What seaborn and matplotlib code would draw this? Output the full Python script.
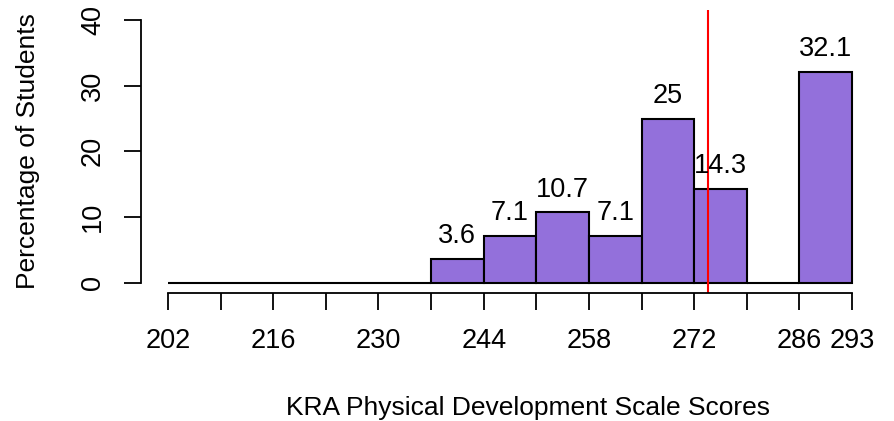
import numpy as np
import pandas as pd
import matplotlib
matplotlib.use("Agg")
import matplotlib.pyplot as plt
import seaborn as sns

# Score bins (width 7) and percentage of students in each bin
bin_edges = [202, 209, 216, 223, 230, 237, 244, 251, 258, 265, 272, 279, 286, 293]
percentages = [0, 0, 0, 0, 0, 3.6, 7.1, 10.7, 7.1, 25, 14.3, 0, 32.1]
tick_values = [202, 216, 230, 244, 258, 272, 286, 293]
y_ticks = [0, 10, 20, 30, 40]
mean_score = 273.9

sns.set_style("white")
plt.rcParams["font.family"] = ["Liberation Sans", "DejaVu Sans"]
plt.rcParams["text.color"] = "black"
plt.rcParams["xtick.color"] = "black"
plt.rcParams["ytick.color"] = "black"

FS = 19.5
FS_LABEL = 19
W, H = 894, 421
fig = plt.figure(figsize=(W / 100, H / 100), dpi=100)

# plot region in pixels
left, right, top, bottom = 140.6, 879.4, 9.5, 293.2
ax = fig.add_axes([left / W, 1 - bottom / H, (right - left) / W, (bottom - top) / H])

mids = [(a + b) / 2 for a, b in zip(bin_edges[:-1], bin_edges[1:])]
df = pd.DataFrame({"score": mids, "pct": percentages})
sns.histplot(data=df, x="score", weights="pct", bins=bin_edges, stat="count",
             color="#9370DB", alpha=1, edgecolor="black", linewidth=1.5, ax=ax)

# value labels above non-empty bars
for m, p in zip(mids, percentages):
    if p > 0:
        ax.annotate(f"{p:g}", xy=(m, p), xytext=(0, 16.5), textcoords="offset points",
                    ha="center", va="center", fontsize=FS, color="black")

ax.axvline(mean_score, color="red", linewidth=1.5)

xr = bin_edges[-1] - bin_edges[0]
ax.set_xlim(bin_edges[0] - 0.04 * xr, bin_edges[-1] + 0.04 * xr)
ax.set_ylim(-1.6, 41.6)

for s in ["top", "right"]:
    ax.spines[s].set_visible(False)
ax.spines["left"].set_bounds(0, 40)
ax.spines["bottom"].set_bounds(bin_edges[0], bin_edges[-1])
for s in ["left", "bottom"]:
    ax.spines[s].set_linewidth(1.3)
    ax.spines[s].set_color("black")

ax.set_xticks(bin_edges, minor=False)
ax.set_xticklabels([str(v) if v in tick_values else "" for v in bin_edges])
ax.set_yticks(y_ticks)
ax.set_yticklabels([str(v) for v in y_ticks], rotation=90, va="center")
ax.tick_params(axis="both", direction="out", length=12, width=1.3, color="black",
               labelcolor="black", labelsize=FS, pad=13, bottom=True, left=True)

ax.set_xlabel("")
ax.set_ylabel("")
fig.text(528 / W, 1 - 415 / H, "KRA Physical Development Scale Scores",
         ha="center", va="baseline", fontsize=FS_LABEL)
fig.text(28 / W, 1 - 151.5 / H, "Percentage of Students",
         ha="center", va="center", rotation=90, fontsize=FS_LABEL)

fig.savefig("out.png", dpi=100)
